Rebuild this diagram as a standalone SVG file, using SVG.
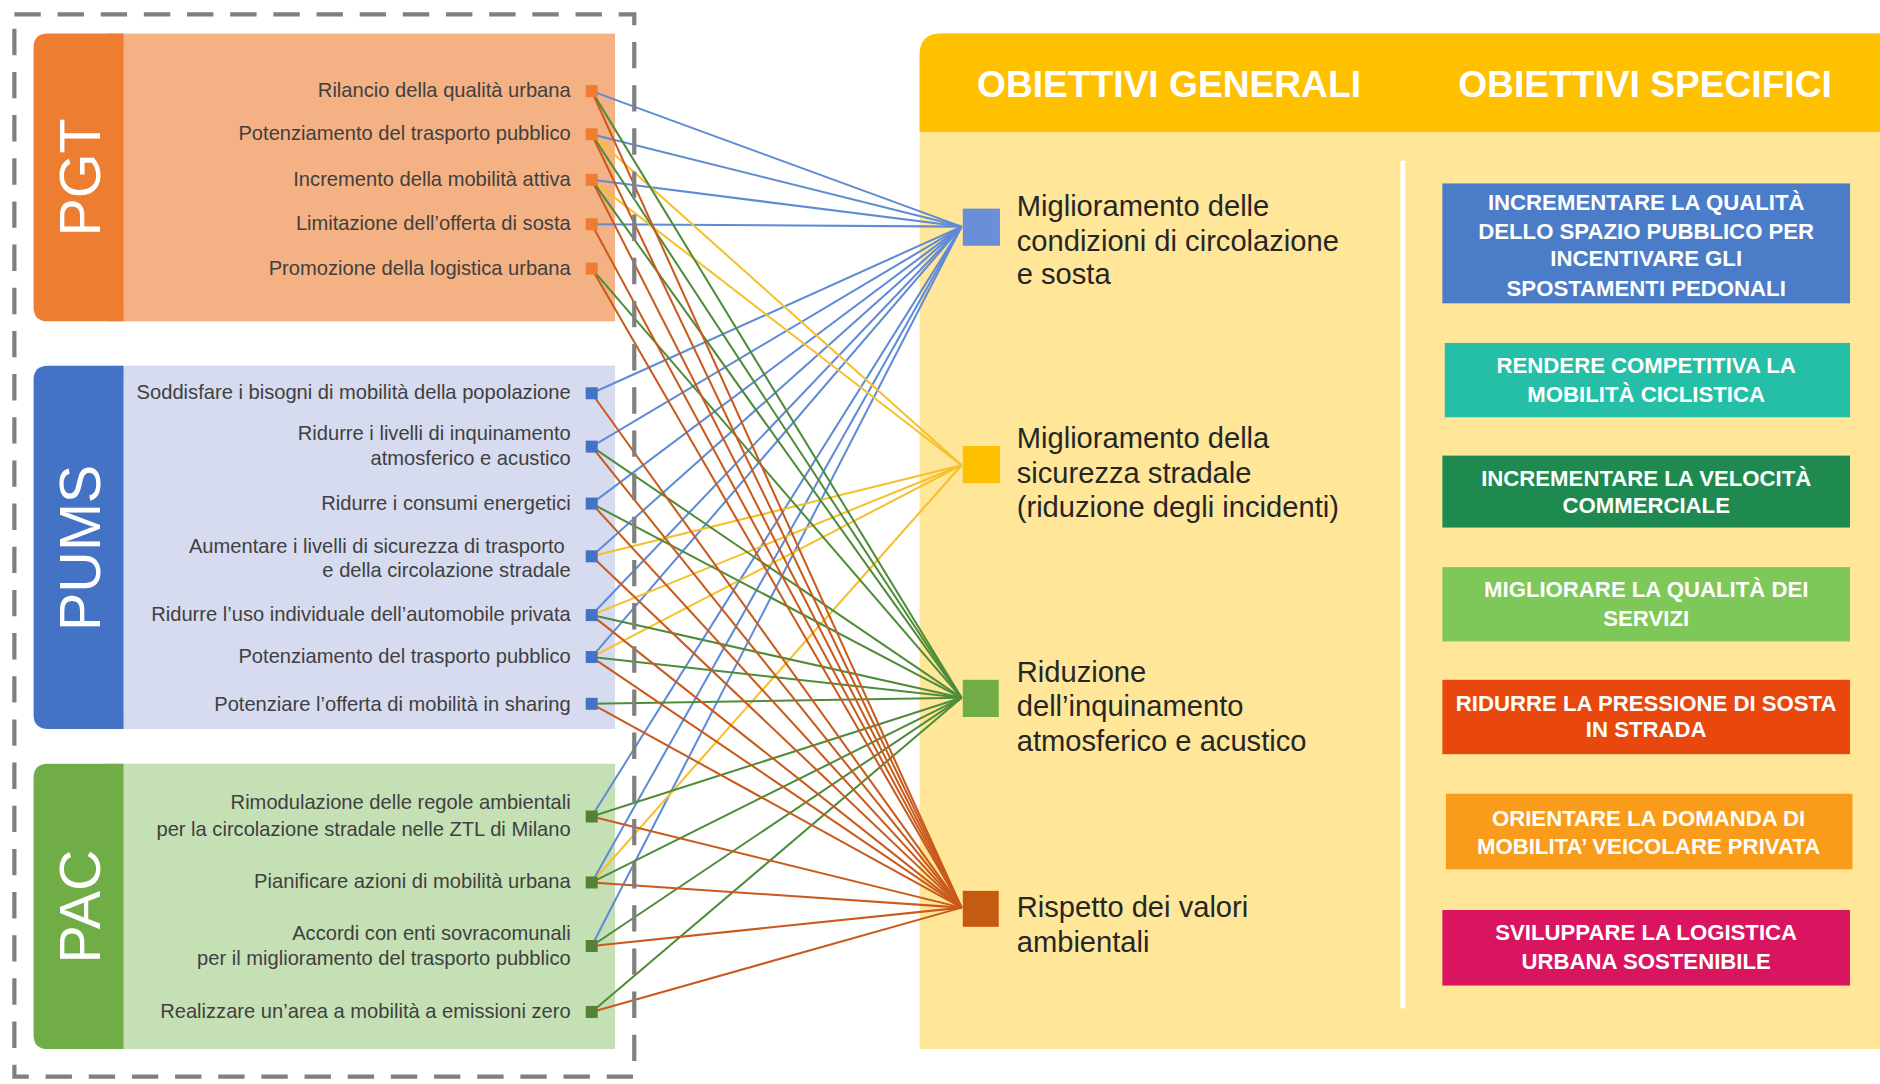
<svg xmlns="http://www.w3.org/2000/svg" width="1880" height="1084" viewBox="0 0 1880 1084">
<style>
text{font-family:"Liberation Sans",Arial,sans-serif}
.lbl{font-size:16.8px;fill:#404040;text-anchor:end}
.big{font-size:48px;fill:#ffffff;text-anchor:middle}
.gen{font-size:24.3px;fill:#262626}
.hdr{font-size:31px;font-weight:bold;fill:#ffffff;text-anchor:middle}
.spec{font-size:18.5px;font-weight:bold;fill:#ffffff;text-anchor:middle}
.cn line{stroke-width:1.7;fill:none}
.cb{stroke:#5f8ad6}.cy{stroke:#f5c02a}.cg{stroke:#4f8c3a}.co{stroke:#c95a1c}
.sqo{fill:#ed7d31}.sqb{fill:#4472c4}.sqg{fill:#548235}
</style>
<rect width="1880" height="1084" fill="#ffffff"/>
<g transform="scale(1.19898)">

<!-- right panel -->
<g id="obiettivi-panel">
<path d="M767,46 Q767,28 785,28 L1568,28 L1568,875 L767,875 Z" fill="#ffe699"/>
<path d="M767,46 Q767,28 785,28 L1568,28 L1568,110 L767,110 Z" fill="#ffc000"/>
<text class="hdr" x="975" y="81">OBIETTIVI GENERALI</text>
<text class="hdr" x="1372" y="81">OBIETTIVI SPECIFICI</text>
<rect x="1168" y="134" width="4" height="707" fill="#ffffff"/>
</g>

<!-- left panels -->
<g id="pgt">
<rect x="90" y="28" width="423" height="240" fill="#f4b183"/>
<path d="M40,28 L103,28 L103,268 L40,268 Q28,268 28,256 L28,40 Q28,28 40,28 Z" fill="#ed7d31"/>
<text class="big" transform="translate(83,148) rotate(-90)">PGT</text>
<text class="lbl" x="476" y="81">Rilancio della qualità urbana</text>
<text class="lbl" x="476" y="117">Potenziamento del trasporto pubblico</text>
<text class="lbl" x="476" y="155">Incremento della mobilità attiva</text>
<text class="lbl" x="476" y="192">Limitazione dell’offerta di sosta</text>
<text class="lbl" x="476" y="229">Promozione della logistica urbana</text>
</g>
<g id="pums">
<rect x="90" y="305" width="423" height="303" fill="#d6dbef"/>
<path d="M40,305 L103,305 L103,608 L40,608 Q28,608 28,596 L28,317 Q28,305 40,305 Z" fill="#4472c4"/>
<text class="big" transform="translate(83,457) rotate(-90)">PUMS</text>
<text class="lbl" x="476" y="333">Soddisfare i bisogni di mobilità della popolazione</text>
<text class="lbl" x="476" y="367">Ridurre i livelli di inquinamento</text>
<text class="lbl" x="476" y="388">atmosferico e acustico</text>
<text class="lbl" x="476" y="425">Ridurre i consumi energetici</text>
<text class="lbl" x="471" y="461">Aumentare i livelli di sicurezza di trasporto</text>
<text class="lbl" x="476" y="481">e della circolazione stradale</text>
<text class="lbl" x="476" y="518">Ridurre l’uso individuale dell’automobile privata</text>
<text class="lbl" x="476" y="553">Potenziamento del trasporto pubblico</text>
<text class="lbl" x="476" y="593">Potenziare l’offerta di mobilità in sharing</text>
</g>
<g id="pac">
<rect x="90" y="637" width="423" height="238" fill="#c5e0b4"/>
<path d="M40,637 L103,637 L103,875 L40,875 Q28,875 28,863 L28,649 Q28,637 40,637 Z" fill="#70ad47"/>
<text class="big" transform="translate(83,756) rotate(-90)">PAC</text>
<text class="lbl" x="476" y="675">Rimodulazione delle regole ambientali</text>
<text class="lbl" x="476" y="697">per la circolazione stradale nelle ZTL di Milano</text>
<text class="lbl" x="476" y="741">Pianificare azioni di mobilità urbana</text>
<text class="lbl" x="476" y="784">Accordi con enti sovracomunali</text>
<text class="lbl" x="476" y="805">per il miglioramento del trasporto pubblico</text>
<text class="lbl" x="476" y="849">Realizzare un’area a mobilità a emissioni zero</text>
</g>

<!-- connectors -->
<g id="connectors" class="cn">
<!-- to T1 (blue) -->
<line class="cb" x1="493.5" y1="76" x2="802" y2="189"/>
<line class="cb" x1="493.5" y1="112" x2="802" y2="189"/>
<line class="cb" x1="493.5" y1="150" x2="802" y2="189"/>
<line class="cb" x1="493.5" y1="187" x2="802" y2="189"/>
<line class="cb" x1="493.5" y1="328" x2="802" y2="189"/>
<line class="cb" x1="493.5" y1="372.5" x2="802" y2="189"/>
<line class="cb" x1="493.5" y1="420" x2="802" y2="189"/>
<line class="cb" x1="493.5" y1="464" x2="802" y2="189"/>
<line class="cb" x1="493.5" y1="513" x2="802" y2="189"/>
<line class="cb" x1="493.5" y1="548" x2="802" y2="189"/>
<line class="cb" x1="493.5" y1="681" x2="802" y2="189"/>
<line class="cb" x1="493.5" y1="736" x2="802" y2="189"/>
<line class="cb" x1="493.5" y1="789" x2="802" y2="189"/>
<!-- to T2 (yellow) -->
<line class="cy" x1="493.5" y1="112" x2="802" y2="388"/>
<line class="cy" x1="493.5" y1="150" x2="802" y2="388"/>
<line class="cy" x1="493.5" y1="464" x2="802" y2="388"/>
<line class="cy" x1="493.5" y1="513" x2="802" y2="388"/>
<line class="cy" x1="493.5" y1="548" x2="802" y2="388"/>
<line class="cy" x1="493.5" y1="736" x2="802" y2="388"/>
<!-- to T3 (green) -->
<line class="cg" x1="493.5" y1="76" x2="802" y2="582"/>
<line class="cg" x1="493.5" y1="112" x2="802" y2="582"/>
<line class="cg" x1="493.5" y1="150" x2="802" y2="582"/>
<line class="cg" x1="493.5" y1="224" x2="802" y2="582"/>
<line class="cg" x1="493.5" y1="372.5" x2="802" y2="582"/>
<line class="cg" x1="493.5" y1="420" x2="802" y2="582"/>
<line class="cg" x1="493.5" y1="513" x2="802" y2="582"/>
<line class="cg" x1="493.5" y1="548" x2="802" y2="582"/>
<line class="cg" x1="493.5" y1="587" x2="802" y2="582"/>
<line class="cg" x1="493.5" y1="681" x2="802" y2="582"/>
<line class="cg" x1="493.5" y1="736" x2="802" y2="582"/>
<line class="cg" x1="493.5" y1="789" x2="802" y2="582"/>
<line class="cg" x1="493.5" y1="844" x2="802" y2="582"/>
<!-- to T4 (orange) -->
<line class="co" x1="493.5" y1="76" x2="802" y2="757"/>
<line class="co" x1="493.5" y1="112" x2="802" y2="757"/>
<line class="co" x1="493.5" y1="150" x2="802" y2="757"/>
<line class="co" x1="493.5" y1="187" x2="802" y2="757"/>
<line class="co" x1="493.5" y1="224" x2="802" y2="757"/>
<line class="co" x1="493.5" y1="328" x2="802" y2="757"/>
<line class="co" x1="493.5" y1="372.5" x2="802" y2="757"/>
<line class="co" x1="493.5" y1="420" x2="802" y2="757"/>
<line class="co" x1="493.5" y1="464" x2="802" y2="757"/>
<line class="co" x1="493.5" y1="513" x2="802" y2="757"/>
<line class="co" x1="493.5" y1="548" x2="802" y2="757"/>
<line class="co" x1="493.5" y1="587" x2="802" y2="757"/>
<line class="co" x1="493.5" y1="681" x2="802" y2="757"/>
<line class="co" x1="493.5" y1="736" x2="802" y2="757"/>
<line class="co" x1="493.5" y1="789" x2="802" y2="757"/>
<line class="co" x1="493.5" y1="844" x2="802" y2="757"/>
</g>

<!-- source markers -->
<g id="pgt-markers" class="sqo">
<rect x="488.5" y="71" width="10" height="10"/>
<rect x="488.5" y="107" width="10" height="10"/>
<rect x="488.5" y="145" width="10" height="10"/>
<rect x="488.5" y="182" width="10" height="10"/>
<rect x="488.5" y="219" width="10" height="10"/>
</g>
<g id="pums-markers" class="sqb">
<rect x="488.5" y="323" width="10" height="10"/>
<rect x="488.5" y="367.5" width="10" height="10"/>
<rect x="488.5" y="415" width="10" height="10"/>
<rect x="488.5" y="459" width="10" height="10"/>
<rect x="488.5" y="508" width="10" height="10"/>
<rect x="488.5" y="543" width="10" height="10"/>
<rect x="488.5" y="582" width="10" height="10"/>
</g>
<g id="pac-markers" class="sqg">
<rect x="488.5" y="676" width="10" height="10"/>
<rect x="488.5" y="731" width="10" height="10"/>
<rect x="488.5" y="784" width="10" height="10"/>
<rect x="488.5" y="839" width="10" height="10"/>
</g>

<!-- dashed frame -->
<rect id="frame" x="12" y="12" width="517" height="886" fill="none" stroke="#7f7f7f" stroke-width="3.5" stroke-dasharray="22 14"/>

<!-- general objectives -->
<g id="og1">
<rect x="803" y="174" width="31" height="31" fill="#6a8fd8"/>
<text class="gen" x="848" y="180">Miglioramento delle</text>
<text class="gen" x="848" y="209">condizioni di circolazione</text>
<text class="gen" x="848" y="237">e sosta</text>
</g>
<g id="og2">
<rect x="803" y="372" width="31" height="31" fill="#ffc000"/>
<text class="gen" x="848" y="374">Miglioramento della</text>
<text class="gen" x="848" y="403">sicurezza stradale</text>
<text class="gen" x="848" y="431">(riduzione degli incidenti)</text>
</g>
<g id="og3">
<rect x="803" y="567" width="30" height="31" fill="#70ad47"/>
<text class="gen" x="848" y="569">Riduzione</text>
<text class="gen" x="848" y="597">dell’inquinamento</text>
<text class="gen" x="848" y="626">atmosferico e acustico</text>
</g>
<g id="og4">
<rect x="803" y="743" width="30" height="30" fill="#c55a11"/>
<text class="gen" x="848" y="765">Rispetto dei valori</text>
<text class="gen" x="848" y="794">ambientali</text>
</g>

<!-- specific objectives -->
<g id="os1">
<rect x="1203" y="153" width="340" height="100" fill="#4a7cc7"/>
<text class="spec" x="1373" y="175">INCREMENTARE LA QUALITÀ</text>
<text class="spec" x="1373" y="199">DELLO SPAZIO PUBBLICO PER</text>
<text class="spec" x="1373" y="222">INCENTIVARE GLI</text>
<text class="spec" x="1373" y="247">SPOSTAMENTI PEDONALI</text>
</g>
<g id="os2">
<rect x="1205" y="286" width="338" height="62" fill="#24bfa6"/>
<text class="spec" x="1373" y="311">RENDERE COMPETITIVA LA</text>
<text class="spec" x="1373" y="335">MOBILITÀ CICLISTICA</text>
</g>
<g id="os3">
<rect x="1203" y="380" width="340" height="60" fill="#1f8a4f"/>
<text class="spec" x="1373" y="405">INCREMENTARE LA VELOCITÀ</text>
<text class="spec" x="1373" y="428">COMMERCIALE</text>
</g>
<g id="os4">
<rect x="1203" y="473" width="340" height="62" fill="#7ec85a"/>
<text class="spec" x="1373" y="498">MIGLIORARE LA QUALITÀ DEI</text>
<text class="spec" x="1373" y="522">SERVIZI</text>
</g>
<g id="os5">
<rect x="1203" y="567" width="340" height="62" fill="#e8480e"/>
<text class="spec" x="1373" y="593">RIDURRE LA PRESSIONE DI SOSTA</text>
<text class="spec" x="1373" y="615">IN STRADA</text>
</g>
<g id="os6">
<rect x="1206" y="662" width="339" height="63" fill="#f99c1b"/>
<text class="spec" x="1375" y="689">ORIENTARE LA DOMANDA DI</text>
<text class="spec" x="1375" y="712">MOBILITA’ VEICOLARE PRIVATA</text>
</g>
<g id="os7">
<rect x="1203" y="759" width="340" height="63" fill="#d9155f"/>
<text class="spec" x="1373" y="784">SVILUPPARE LA LOGISTICA</text>
<text class="spec" x="1373" y="808">URBANA SOSTENIBILE</text>
</g>

</g>
</svg>
